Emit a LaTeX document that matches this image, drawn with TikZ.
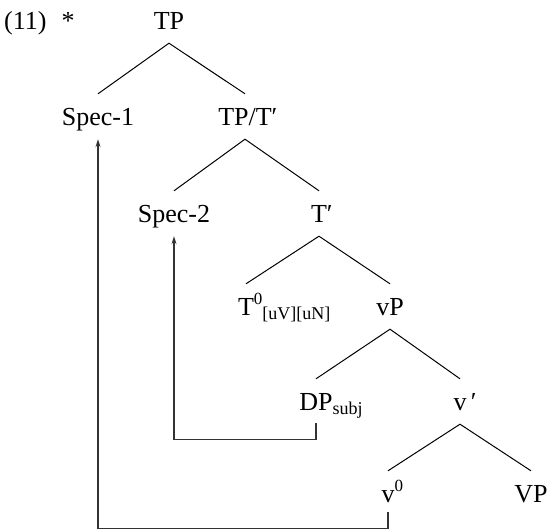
\documentclass[tikz,border=0pt]{standalone}
\usepackage{fontspec}
\setmainfont{Liberation Serif}
\usetikzlibrary{arrows.meta}
\newcommand{\pr}{\char"2032}
\newcommand{\supsm}[1]{\raisebox{11pt}{\fontsize{17}{17}\selectfont #1}}
\newcommand{\subsm}[1]{\raisebox{-4pt}{\fontsize{18}{18}\selectfont #1}}
\begin{document}
\begin{tikzpicture}[x=1pt,y=-1pt,
  lab/.style={anchor=base,font=\fontsize{26}{30}\selectfont,text height=17pt,text depth=0pt,inner xsep=0pt,inner ysep=14pt},
  branch/.style={line width=1pt},
  move/.style={line width=1.2pt,draw=black!80,-{Stealth[length=8pt,width=5pt]}}]
\useasboundingbox (0,0) rectangle (547,530);
\node[lab,anchor=base west] (ex) at (4,29) {(11)};
\node[lab] (star) at (68,29) {*};
\node[lab] (TP) at (169,29) {TP};
\node[lab] (Spec1) at (98,125) {Spec-1};
\node[lab] (TPT) at (245,125) {TP/T\rlap{\pr}};
\node[lab] (Spec2) at (174,222) {Spec-2};
\node[lab] (Tbar) at (319,222) {T\rlap{\pr}};
\node[lab] (T0) at (246,315) {T\rlap{\supsm{0}\subsm{[uV][uN]}}};
\node[lab] (vP) at (390,315) {vP};
\node[lab] (DP) at (316,410) {DP\rlap{\subsm{subj}}};
\node[lab] (vbar) at (460,410) {v\rlap{\,\pr}};
\node[lab] (v0) at (388,502) {v\rlap{\supsm{0}}};
\node[lab] (VP) at (531,502) {VP};
\draw[branch] (Spec1.north) -- (TP.south) -- (TPT.north);
\draw[branch] (Spec2.north) -- (TPT.south) -- (Tbar.north);
\draw[branch] (T0.north) -- (Tbar.south) -- (vP.north);
\draw[branch] (DP.north) -- (vP.south) -- (vbar.north);
\draw[branch] (v0.north) -- (vbar.south) -- (VP.north);
\draw[move] ([yshift=1pt]DP.south) -- ++(0,16) -| (Spec2.south);
\draw[move] ([yshift=4pt]v0.south) -- ++(0,16) -| (Spec1.south);
\end{tikzpicture}
\end{document}
